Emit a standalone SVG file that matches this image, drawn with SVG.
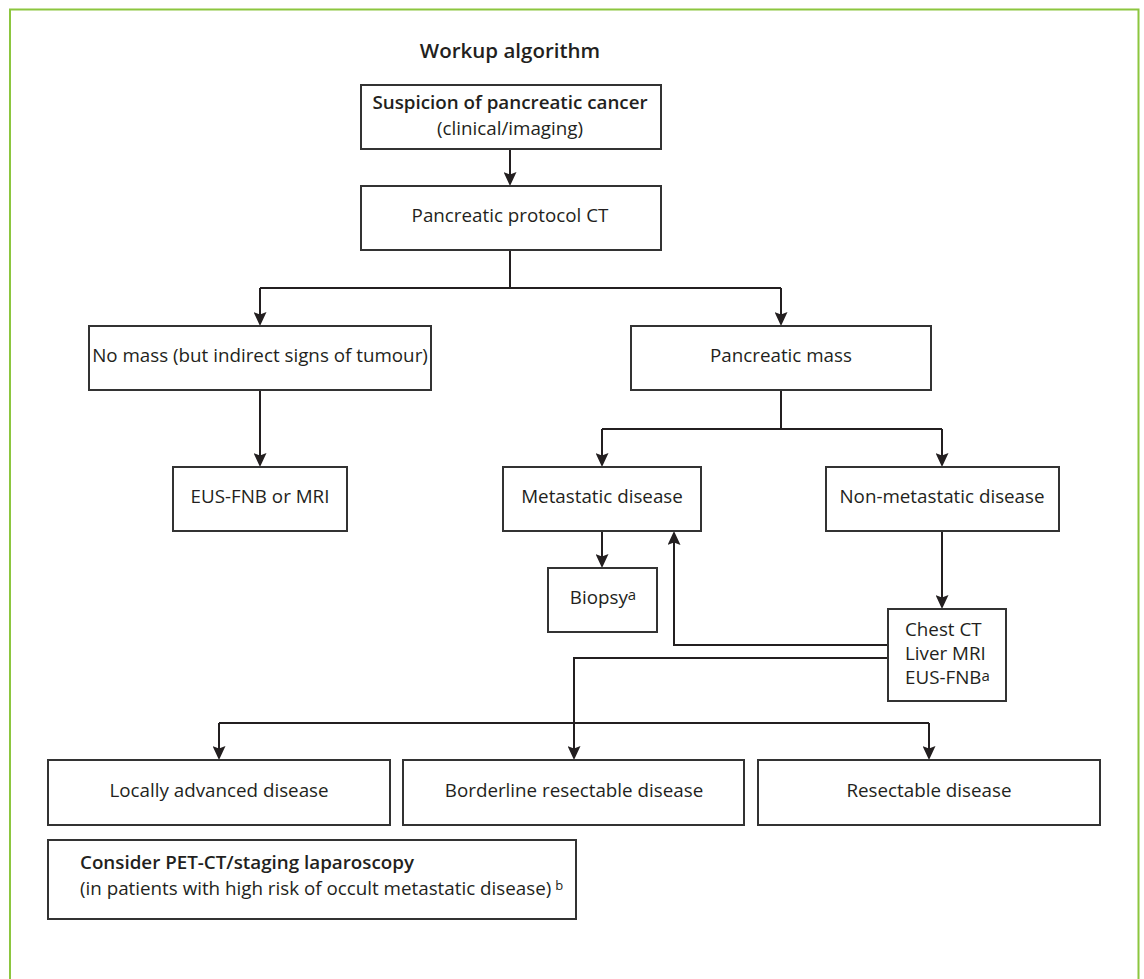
<svg xmlns="http://www.w3.org/2000/svg" width="1144" height="979" viewBox="0 0 1144 979">
<defs>
<marker id="ah" markerUnits="userSpaceOnUse" viewBox="0 0 14 13" refX="10" refY="6.5" markerWidth="14" markerHeight="13" orient="auto">
<path d="M0,0 L14,6.5 L0,13 L2.5,6.5 Z" fill="#231f20"/>
</marker>
<style>
.box{fill:#fff;stroke:#333;stroke-width:2}
.t{font-family:"Open Sans","Noto Sans","Liberation Sans",sans-serif;font-size:18.8px;fill:#231f20}
.c{text-anchor:middle}
.b{font-weight:600}
.sup{font-size:15px}
.ln{fill:none;stroke:#231f20;stroke-width:2}
.arr{marker-end:url(#ah)}
</style>
</defs>
<rect width="1144" height="979" fill="#fff"/>
<path d="M10,979 V9.5 H1138.5 V979" fill="none" stroke="#8cc63f" stroke-width="2"/>
<text class="t c b" x="510" y="58" style="font-size:20.5px">Workup algorithm</text>

<g id="connectors">
<path class="ln arr" d="M510,149 V182"/>
<path class="ln" d="M510,250 V288 M260,288 H781"/>
<path class="ln arr" d="M260,288 V322"/>
<path class="ln arr" d="M781,288 V322"/>
<path class="ln arr" d="M260,390 V463"/>
<path class="ln" d="M781,390 V429 M602,429 H942"/>
<path class="ln arr" d="M602,429 V463"/>
<path class="ln arr" d="M942,429 V463"/>
<path class="ln arr" d="M602,531 V564"/>
<path class="ln arr" d="M942,531 V605"/>
<path class="ln arr" d="M888,645 H674 V535"/>
<path class="ln arr" d="M888,658 H574 V756"/>
<path class="ln" d="M219,723 H929"/>
<path class="ln arr" d="M219,723 V756"/>
<path class="ln arr" d="M929,723 V756"/>
</g>

<g id="n1">
<rect class="box" x="361" y="85" width="300" height="64"/>
<text class="t c b" x="510" y="108.5">Suspicion of pancreatic cancer</text>
<text class="t c" x="510" y="134.5">(clinical/imaging)</text>
</g>
<g id="n2">
<rect class="box" x="361" y="186" width="300" height="64"/>
<text class="t c" x="510" y="222">Pancreatic protocol CT</text>
</g>
<g id="n3">
<rect class="box" x="89" y="326" width="342" height="64"/>
<text class="t c" x="260" y="362">No mass (but indirect signs of tumour)</text>
</g>
<g id="n4">
<rect class="box" x="631" y="326" width="300" height="64"/>
<text class="t c" x="781" y="362">Pancreatic mass</text>
</g>
<g id="n5">
<rect class="box" x="173" y="467" width="174" height="64"/>
<text class="t c" x="260" y="503">EUS-FNB or MRI</text>
</g>
<g id="n6">
<rect class="box" x="503" y="467" width="198" height="64"/>
<text class="t c" x="602" y="503">Metastatic disease</text>
</g>
<g id="n7">
<rect class="box" x="826" y="467" width="233" height="64"/>
<text class="t c" x="942" y="503">Non-metastatic disease</text>
</g>
<g id="n8">
<rect class="box" x="548" y="568" width="109" height="64"/>
<text class="t c" x="603" y="603.5">Biopsy<tspan class="sup" dy="-3.5">a</tspan></text>
</g>
<g id="n9">
<rect class="box" x="888" y="609" width="118" height="92"/>
<text class="t" x="905" y="636">Chest CT</text>
<text class="t" x="905" y="660">Liver MRI</text>
<text class="t" x="905" y="684">EUS-FNB<tspan class="sup" dy="-3.5">a</tspan></text>
</g>
<g id="n10">
<rect class="box" x="48" y="760" width="342" height="65"/>
<text class="t c" x="219" y="797">Locally advanced disease</text>
</g>
<g id="n11">
<rect class="box" x="403" y="760" width="341" height="65"/>
<text class="t c" x="574" y="797">Borderline resectable disease</text>
</g>
<g id="n12">
<rect class="box" x="758" y="760" width="342" height="65"/>
<text class="t c" x="929" y="797">Resectable disease</text>
</g>
<g id="n13">
<rect class="box" x="48" y="840" width="528" height="79"/>
<text class="t b" x="80" y="869">Consider PET-CT/staging laparoscopy</text>
<text class="t" x="80" y="895">(in patients with high risk of occult metastatic disease)<tspan style="font-size:13px" dx="4" dy="-5">b</tspan></text>
</g>
</svg>
